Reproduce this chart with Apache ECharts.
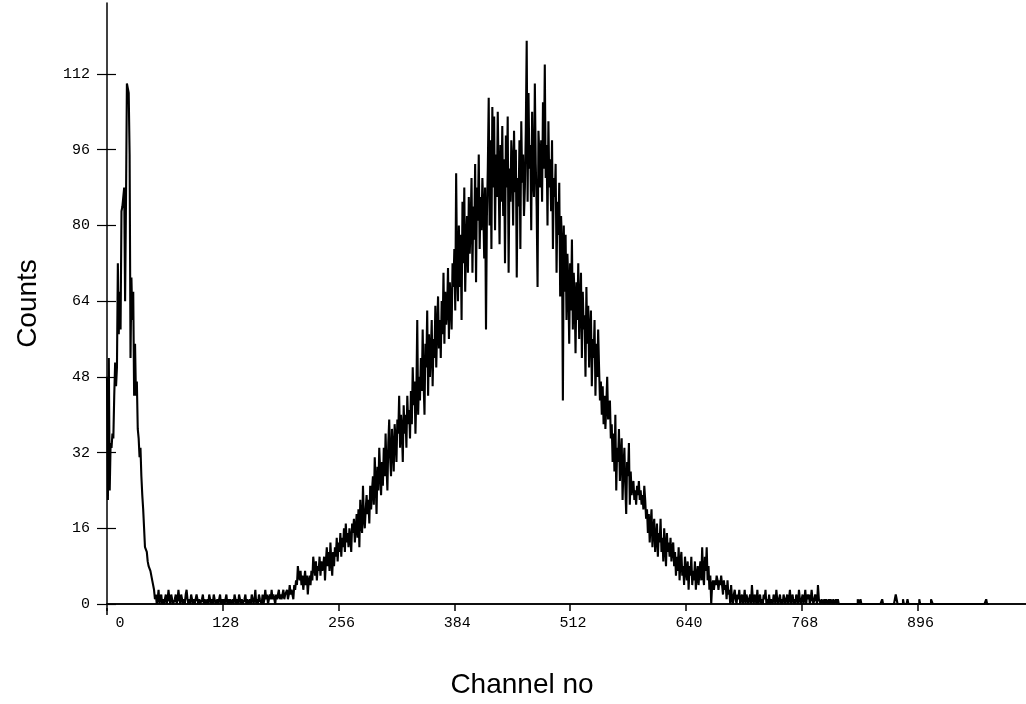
<!DOCTYPE html>
<html>
<head>
<meta charset="utf-8">
<script src="https://cdn.jsdelivr.net/npm/echarts@6/dist/echarts.min.js"></script>
<style>
html,body{margin:0;padding:0;background:#fff;}
#chart{width:1026px;height:704px;}
</style>
</head>
<body>
<div id="chart"></div>
<script>
// counts per channel, starting at channel 0
const counts = [
48,22,52,24,34,33,36,35,44,51,46,50,72,57,66,58,
83,84,86,88,64,85,110,109,108,95,52,69,60,66,44,55,
44,47,37,35,31,33,27,23,20,16,12,12,11,9,8,8,
7,6,5,5,3,1,2,0,1,3,0,1,2,0,1,0,
0,2,0,1,3,1,0,2,1,0,0,1,2,0,1,3,
1,0,2,1,0,1,0,2,3,1,0,1,0,2,1,0,
1,0,0,2,1,0,1,0,0,1,2,0,1,0,0,1,
0,2,1,0,1,0,2,1,0,0,1,0,1,2,0,1,
0,1,0,0,2,0,1,0,1,0,0,1,0,2,1,0,
1,0,2,1,0,1,0,0,1,2,0,1,0,0,1,0,
2,1,0,1,3,0,1,0,2,1,1,0,2,0,1,3,
1,2,0,1,2,1,3,1,2,1,0,2,1,2,3,1,
2,1,2,3,1,2,2,3,1,2,4,2,3,2,1,4,
3,5,4,8,6,5,7,4,6,3,5,7,4,6,2,5,
6,4,7,5,10,8,6,9,5,8,7,10,6,9,7,8,
10,5,9,12,8,11,7,13,9,6,11,8,12,10,14,9,
13,11,15,10,14,12,16,11,17,13,15,12,16,14,11,17,
15,18,13,16,19,14,20,12,22,17,15,25,18,16,20,23,
19,22,17,25,20,24,27,21,31,26,19,29,24,33,28,23,
30,25,33,27,36,29,24,34,39,31,27,37,33,28,38,35,
30,39,36,44,33,40,37,30,42,36,40,33,44,38,41,35,
45,38,50,42,47,36,44,60,40,48,43,52,45,58,47,40,
55,50,62,44,57,48,53,60,46,56,52,63,50,58,65,54,
60,52,64,57,70,55,66,59,62,71,56,68,64,58,72,67,
75,62,91,70,64,80,67,78,60,85,72,88,66,76,82,70,
86,74,80,90,70,84,77,93,68,88,81,95,75,86,79,90,
84,73,88,58,82,92,107,80,98,75,105,88,103,79,95,86,
104,90,76,97,85,101,82,94,72,99,88,103,70,92,85,98,
93,80,100,87,96,69,90,84,98,75,102,89,95,82,88,100,
119,85,108,92,97,79,104,90,86,110,93,84,67,100,95,88,
98,85,106,92,114,90,97,80,102,88,94,83,98,75,90,86,
93,70,85,78,89,65,82,76,43,80,66,78,60,74,68,55,
72,62,77,58,70,65,53,68,60,72,56,64,70,52,66,58,
61,48,67,55,63,50,58,62,46,56,52,60,44,55,48,58,
50,43,47,40,46,38,44,37,42,48,39,41,43,35,38,30,
36,28,40,24,33,30,37,26,31,35,22,29,33,25,19,30,
27,34,21,28,23,25,26,22,24,21,25,23,26,22,24,21,
23,20,25,22,18,20,15,19,13,17,20,12,16,18,11,14,
17,10,15,13,18,11,14,9,16,12,8,15,11,13,10,14,
9,12,13,8,11,6,10,7,12,5,9,11,6,8,4,10,
7,5,9,3,8,6,10,4,7,5,9,3,6,8,4,7,
9,5,12,6,4,10,7,12,5,8,3,6,0,4,5,3,
5,4,6,5,3,5,4,6,4,2,5,3,4,1,5,2,
3,0,4,1,0,2,3,1,0,2,1,3,0,1,2,0,
1,3,0,2,1,0,1,2,0,4,1,0,2,1,0,3,
0,1,2,0,1,0,2,1,3,0,1,0,2,0,1,1,
0,2,1,0,3,1,0,1,2,0,1,0,2,1,0,1,
2,0,1,3,0,1,2,0,1,0,2,1,0,3,1,0,
1,2,0,1,3,0,2,1,2,0,1,3,1,0,1,2,
1,0,4,1,1,0,1,1,0,1,0,1,1,0,1,0,
1,1,0,1,0,0,1,0,1,0,0,0,0,0,0,0,
0,0,0,0,0,0,0,0,0,0,0,0,0,0,1,0,
0,1,0,0,0,0,0,0,0,0,0,0,0,0,0,0,
0,0,0,0,0,0,0,0,0,1,0,0,0,0,0,0,
0,0,0,0,0,0,0,0,2,2,0,0,0,0,0,0,
1,0,0,0,0,1,0,0,0,0,0,0,0,0,0,0,
0,0,1,0,0,0,0,0,0,0,0,0,0,0,0,1,
1,0,0,0,0,0,0,0,0,0,0,0,0,0,0,0,
0,0,0,0,0,0,0,0,0,0,0,0,0,0,0,0,
0,0,0,0,0,0,0,0,0,0,0,0,0,0,0,0,
0,0,0,0,0,0,0,0,0,0,0,0,1,0,0,0
];
const xTicks = [0, 128, 256, 384, 512, 640, 768, 896];
const yTicks = [0, 16, 32, 48, 64, 80, 96, 112];
const xTitle = 'Channel no';
const yTitle = 'Counts';

const seriesData = counts.map((v, i) => [i, v]);
const monoFont = '"Liberation Mono", "DejaVu Sans Mono", monospace';

const chart = echarts.init(document.getElementById('chart'), null, {renderer: 'canvas'});
chart.setOption({
  animation: false,
  backgroundColor: '#ffffff',
  grid: {left: 107, right: 0, top: 3, bottom: 96, containLabel: false},
  graphic: [{
    type: 'line', silent: true,
    shape: {x1: 107, y1: 608, x2: 107, y2: 615},
    style: {stroke: '#000', lineWidth: 1.5}
  }],
  xAxis: [{
    type: 'value', position: 'bottom', min: 0, max: 1016, interval: 128,
    name: xTitle, nameLocation: 'middle', nameGap: 67,
    nameTextStyle: {fontFamily: '"Liberation Sans", Arial, sans-serif', fontSize: 28, color: '#000', padding: [0, 89, 0, 0]},
    axisLine: {show: true, lineStyle: {color: '#000', width: 1.5}},
    axisTick: {show: true, inside: false, length: 7, lineStyle: {color: '#000', width: 1.5}, customValues: xTicks},
    axisLabel: {
      show: true, margin: 12, color: '#000', fontFamily: monoFont, fontSize: 15, customValues: xTicks,
      formatter: function (v) { if (xTicks.indexOf(v) < 0) return ''; return v === 0 ? '{z|0}' : '{n|' + v + '}'; },
      rich: {z: {padding: [0, 0, 0, 26], fontFamily: monoFont, fontSize: 15, color: '#000'}, n: {padding: [0, 0, 0, 6], fontFamily: monoFont, fontSize: 15, color: '#000'}}
    },
    splitLine: {show: false}
  }, {
    type: 'value', position: 'top', min: 0, max: 1016, interval: 128,
    axisLine: {show: true, lineStyle: {color: '#000', width: 1.5}},
    axisTick: {show: false}, axisLabel: {show: false}, splitLine: {show: false}
  }],
  yAxis: [{
    type: 'value', position: 'left', min: 0, max: 127, interval: 16,
    name: yTitle, nameLocation: 'middle', nameGap: 65, nameRotate: 90,
    nameTextStyle: {fontFamily: '"Liberation Sans", Arial, sans-serif', fontSize: 28, color: '#000'},
    axisLine: {show: true, lineStyle: {color: '#000', width: 1.5}},
    axisTick: {show: true, inside: false, length: 10, lineStyle: {color: '#000', width: 1.2}, customValues: yTicks},
    axisLabel: {
      show: true, margin: 17, color: '#000', fontFamily: monoFont, fontSize: 15, customValues: yTicks,
      formatter: function (v) { return yTicks.indexOf(v) < 0 ? '' : String(v); }
    },
    splitLine: {show: false}
  }, {
    type: 'value', position: 'left', min: 0, max: 127, interval: 16,
    axisLine: {show: false},
    axisTick: {show: true, inside: true, length: 9, lineStyle: {color: '#000', width: 1.2}, customValues: yTicks},
    axisLabel: {show: false}, splitLine: {show: false}
  }],
  series: [{
    type: 'line', xAxisIndex: 0, yAxisIndex: 0,
    data: seriesData, step: 'end', showSymbol: false, symbol: 'none',
    sampling: null, clip: true,
    lineStyle: {color: '#000', width: 2.1},
    emphasis: {disabled: true}
  }]
});
</script>
</body>
</html>
